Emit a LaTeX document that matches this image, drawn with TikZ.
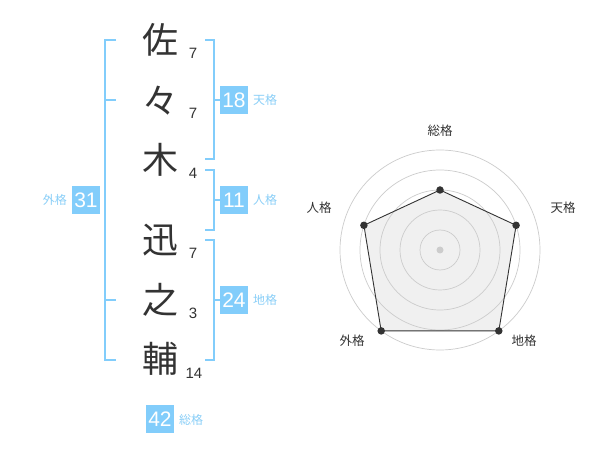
\documentclass[tikz,border=0pt]{standalone}
\usepackage{fontspec}
\setmainfont{Liberation Sans}
\newfontfamily\jpfont{Noto Sans CJK JP}
\definecolor{sky}{HTML}{82CDFB}
\definecolor{skytext}{HTML}{8ACFF8}
\definecolor{ink}{HTML}{333333}
\definecolor{ring}{HTML}{CCCCCC}
\definecolor{area}{HTML}{F0F0F0}
\begin{document}
\begin{tikzpicture}[x=1pt,y=-1pt,
  kanji/.style={font=\jpfont\fontsize{36}{36}\selectfont, text=ink, inner sep=0pt},
  stroke/.style={font=\fontsize{15}{15}\selectfont, text=ink, inner sep=0pt},
  sumbox/.style={fill=sky, text=white, minimum width=28pt, minimum height=28pt, inner sep=0pt, font=\fontsize{21}{21}\selectfont},
  sumlabel/.style={text=skytext, font=\jpfont\fontsize{12}{12}\selectfont, inner sep=0pt},
  bracket/.style={draw=sky, line width=1.6pt},
  radarlabel/.style={text=ink, font=\jpfont\fontsize{12.5}{12.5}\selectfont, inner sep=0pt},
  ringline/.style={draw=ring, line width=0.7pt},
  dot/.style={circle, fill=ink, inner sep=0pt, minimum size=7.5pt}
]
\useasboundingbox (0,0) rectangle (600,470);
\fill[white] (0,0) rectangle (600,470);

% name characters
\node[kanji] (c1) at (160,40) {佐};
\node[kanji] (c2) at (160,101) {々};
\node[kanji] (c3) at (160,160) {木};
\node[kanji] (c4) at (160,240) {迅};
\node[kanji] (c5) at (160,300) {之};
\node[kanji] (c6) at (160,359) {輔};

% stroke counts
\node[stroke] (n1) at (193,53) {7};
\node[stroke] (n2) at (193,113) {7};
\node[stroke] (n3) at (193,173) {4};
\node[stroke] (n4) at (193,253) {7};
\node[stroke] (n5) at (193,313) {3};
\node[stroke] (n6) at (194,373) {14};

% brackets
\draw[bracket] (116,40) -- (105,40) -- (105,360) -- (116,360);
\draw[bracket] (105,100) -- (116,100);
\draw[bracket] (105,300) -- (116,300);

\draw[bracket] (205,40) -- (214,40) -- (214,159) -- (205,159);
\draw[bracket] (214,100) -- (220,100);
\draw[bracket] (205,170) -- (214,170) -- (214,230) -- (205,230);
\draw[bracket] (214,200) -- (220,200);
\draw[bracket] (205,240) -- (214,240) -- (214,360) -- (205,360);
\draw[bracket] (214,300) -- (220,300);

% sums
\node[sumbox] (gai) at (86,200) {31};
\node[sumlabel, anchor=east] (gail) at (67,200) {外格};
\node[sumbox] (ten) at (234,100) {18};
\node[sumlabel, anchor=west] (tenl) at (253,100) {天格};
\node[sumbox] (jin) at (234,200) {11};
\node[sumlabel, anchor=west] (jinl) at (253,200) {人格};
\node[sumbox] (chi) at (234,300) {24};
\node[sumbox] (sou) at (160,419) {42};
\node[sumlabel, anchor=west] (chil) at (253,300) {地格};
\node[sumlabel, anchor=west] (soul) at (179,420) {総格};

% radar chart
\coordinate (o) at (440,250);
\coordinate (p1) at (440,190);
\coordinate (p2) at (516.1,225.3);
\coordinate (p3) at (498.8,330.9);
\coordinate (p4) at (381.2,330.9);
\coordinate (p5) at (363.9,225.3);
\fill[area] (p1) -- (p2) -- (p3) -- (p4) -- (p5) -- cycle;
\foreach \r in {20,40,60,80,100} \draw[ringline] (o) circle[radius=\r];
\fill[ring] (o) circle[radius=3.5];
\draw[ink, line width=0.9pt] (p1) -- (p2) -- (p3) -- (p4) -- (p5) -- cycle;
\foreach \p in {p1,p2,p3,p4,p5} \node[dot] at (\p) {};

\node[radarlabel] (l1) at (440,131) {総格};
\node[radarlabel] (l2) at (563,208) {天格};
\node[radarlabel] (l3) at (524,341) {地格};
\node[radarlabel] (l4) at (352,341) {外格};
\node[radarlabel] (l5) at (319,208) {人格};
\end{tikzpicture}
\end{document}
